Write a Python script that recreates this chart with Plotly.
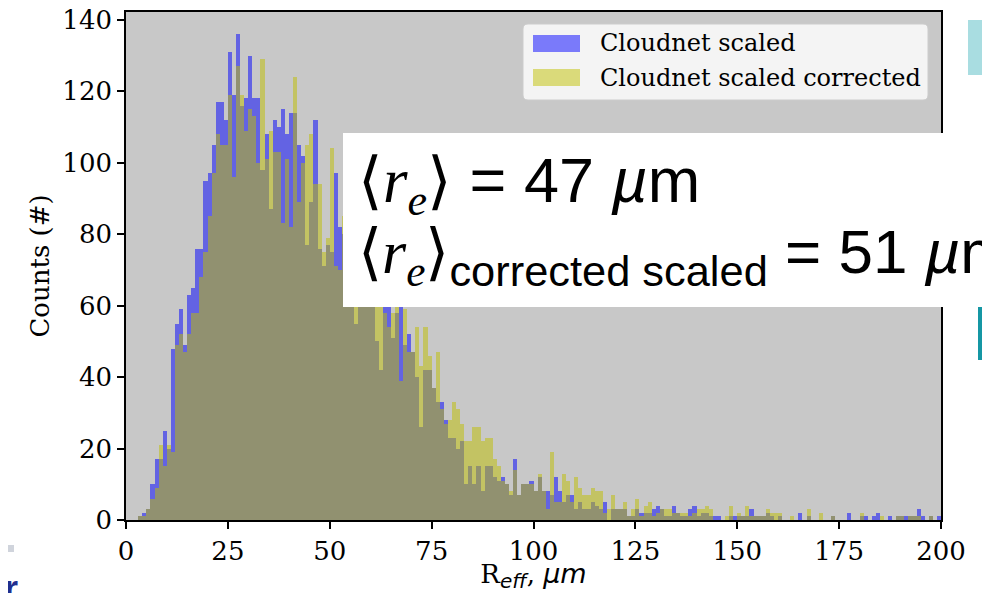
import plotly.graph_objects as go

# Histogram bins: 1 µm wide, 0..200 µm
bin_edges_start = list(range(0, 200))

blue_counts = [
    0, 0, 0, 1, 2, 3, 10, 17, 17, 25,
    20, 48, 55, 59, 49, 63, 65, 76, 76, 95,
    97, 105, 117, 117, 112, 131, 119, 136, 116, 118,
    130, 118, 118, 98, 108, 87, 112, 110, 115, 108,
    114, 114, 105, 102, 77, 89, 112, 76, 71, 77,
    75, 97, 82, 80, 78, 75, 55, 72, 74, 70,
    66, 50, 42, 62, 60, 51, 58, 62, 49, 52,
    47, 40, 26, 42, 42, 37, 33, 33, 28, 23,
    23, 20, 22, 10, 15, 10, 15, 8, 15, 15,
    12, 11, 12, 10, 7, 17, 7, 10, 10, 11,
    8, 12, 8, 8, 7, 12, 8, 5, 7, 7,
    3, 5, 3, 3, 5, 4, 3, 5, 0, 3,
    3, 3, 3, 1, 1, 3, 2, 2, 2, 3,
    4, 3, 1, 1, 4, 2, 1, 1, 3, 4,
    1, 2, 2, 1, 1, 1, 0, 0, 1, 1,
    1, 1, 1, 3, 1, 1, 1, 2, 1, 0,
    1, 0, 0, 0, 0, 2, 0, 1, 0, 0,
    0, 0, 0, 1, 0, 0, 0, 2, 0, 0,
    1, 1, 0, 1, 2, 0, 0, 1, 0, 1,
    1, 1, 1, 1, 3, 1, 0, 1, 0, 1,
]

yellow_counts = [
    0, 0, 0, 1, 1, 3, 6, 9, 21, 15,
    21, 19, 49, 52, 47, 52, 58, 58, 68, 75,
    85, 97, 108, 105, 105, 119, 96, 127, 119, 109,
    115, 113, 100, 129, 101, 109, 103, 103, 83, 101,
    82, 124, 89, 100, 105, 108, 94, 94, 75, 79,
    104, 71, 70, 85, 80, 72, 68, 80, 78, 75,
    72, 62, 62, 58, 54, 58, 60, 39, 59, 47,
    47, 54, 43, 54, 46, 37, 47, 31, 27, 28,
    33, 31, 27, 22, 22, 26, 26, 22, 23, 23,
    17, 15, 11, 10, 8, 14, 7, 10, 10, 10,
    8, 13, 8, 3, 19, 5, 5, 13, 11, 5,
    12, 9, 7, 7, 9, 8, 8, 2, 3, 7,
    3, 3, 5, 1, 3, 6, 1, 4, 5, 1,
    2, 3, 3, 3, 2, 2, 2, 2, 1, 2,
    3, 3, 4, 3, 0, 0, 0, 1, 4, 0,
    2, 1, 4, 1, 1, 1, 1, 3, 2, 2,
    2, 0, 0, 1, 0, 0, 0, 3, 0, 0,
    2, 0, 0, 1, 0, 0, 0, 0, 0, 0,
    2, 0, 0, 0, 0, 1, 0, 0, 0, 1,
    1, 0, 1, 1, 1, 0, 0, 1, 0, 0,
]

x_ticks = [0, 25, 50, 75, 100, 125, 150, 175, 200]
y_ticks = [0, 20, 40, 60, 80, 100, 120, 140]
series_names = ["Cloudnet scaled", "Cloudnet scaled corrected"]

centers = [b + 0.5 for b in bin_edges_start]

SERIF = "DejaVu Serif"
SANS = "Liberation Sans, Arial, sans-serif"

fig = go.Figure()
fig.add_trace(go.Bar(
    x=centers, y=blue_counts, width=1, name=series_names[0], showlegend=False,
    marker=dict(color="rgb(0,0,255)", line=dict(width=0)), opacity=0.5,
))
fig.add_trace(go.Bar(
    x=centers, y=yellow_counts, width=1, name=series_names[1], showlegend=False,
    marker=dict(color="rgb(191,191,0)", line=dict(width=0)), opacity=0.5,
))

axis_common = dict(
    showgrid=False, zeroline=False, showline=True, linecolor="black", linewidth=1.6,
    mirror=True, ticks="outside", ticklen=7, tickwidth=1.6, tickcolor="black",
    tickfont=dict(family=SERIF, size=26, color="black"), automargin=False,
    ticklabeloverflow="allow",
)

X_TITLE = ("R<sub><i><span style='font-family:DejaVu Sans;font-size:20px'>eff</span></i></sub>, "
           "<i><span style='font-family:DejaVu Sans;font-size:27px'>µm</span></i>")

# The page body has an 8 px offset; plot area on screen: x 126..941, y 12..520
fig.update_layout(
    width=982, height=585,
    margin=dict(l=118, r=49, t=4, b=73),
    paper_bgcolor="white", plot_bgcolor="#c8c8c8",
    barmode="overlay", bargap=0,
    xaxis=dict(range=[0, 200], tickvals=x_ticks, ticktext=[str(v) for v in x_ticks],
               title=dict(text=X_TITLE, font=dict(family=SERIF, size=26, color="black"), standoff=4),
               **axis_common),
    yaxis=dict(range=[0, 142.2], tickvals=y_ticks, ticktext=[str(v) for v in y_ticks],
               title=dict(text="Counts (#)", font=dict(family=SERIF, size=26, color="black"), standoff=5),
               **axis_common),
    showlegend=False,
)


def px_x(p):
    return (p - 126) / 815.0


def px_y(p):
    return (520 - p) / 508.0


def rounded_rect(x0, y0, x1, y1, r):
    # x/y in screen px; returns a paper-coordinate path
    rx = r / 815.0
    ry = r / 508.0
    X0, X1 = px_x(x0), px_x(x1)
    Yt, Yb = px_y(y0), px_y(y1)
    return (f"M {X0+rx},{Yt} L {X1-rx},{Yt} Q {X1},{Yt} {X1},{Yt-ry} "
            f"L {X1},{Yb+ry} Q {X1},{Yb} {X1-rx},{Yb} L {X0+rx},{Yb} "
            f"Q {X0},{Yb} {X0},{Yb+ry} L {X0},{Yt-ry} Q {X0},{Yt} {X0+rx},{Yt} Z")


shapes = [
    # legend frame
    dict(type="path", xref="paper", yref="paper", path=rounded_rect(523, 24, 928, 100, 5),
         fillcolor="rgba(255,255,255,0.8)", line=dict(color="#cccccc", width=1), layer="above"),
    # legend swatches
    dict(type="rect", xref="paper", yref="paper", x0=px_x(533), x1=px_x(580), y0=px_y(52), y1=px_y(35),
         fillcolor="rgb(0,0,255)", opacity=0.5, line=dict(width=0), layer="above"),
    dict(type="rect", xref="paper", yref="paper", x0=px_x(533), x1=px_x(580), y0=px_y(86), y1=px_y(69),
         fillcolor="rgb(191,191,0)", opacity=0.5, line=dict(width=0), layer="above"),
    # white text box overlay
    dict(type="rect", xref="paper", yref="paper", x0=px_x(343), x1=px_x(1000), y0=px_y(307), y1=px_y(133),
         fillcolor="white", line=dict(width=0), layer="above"),
    # teal slide fragments on the right
    dict(type="rect", xref="paper", yref="paper", x0=px_x(968), x1=px_x(1000), y0=px_y(75), y1=px_y(20),
         fillcolor="#a9dde1", line=dict(width=0), layer="above"),
    dict(type="rect", xref="paper", yref="paper", x0=px_x(978), x1=px_x(1000), y0=px_y(360), y1=px_y(307),
         fillcolor="#1597a4", line=dict(width=0), layer="above"),
    # bottom-left fragment
    dict(type="rect", xref="paper", yref="paper", x0=px_x(-10), x1=px_x(14), y0=px_y(552), y1=px_y(545),
         fillcolor="#d0d4dc", line=dict(width=0), layer="above"),
]
fig.update_layout(shapes=shapes)

# legend labels
fig.add_annotation(xref="paper", yref="paper", x=px_x(598), y=px_y(43), xanchor="left", yanchor="middle",
                   text=series_names[0], showarrow=False, font=dict(family=SERIF, size=24, color="black"))
fig.add_annotation(xref="paper", yref="paper", x=px_x(598), y=px_y(78), xanchor="left", yanchor="middle",
                   text=series_names[1], showarrow=False, font=dict(family=SERIF, size=24, color="black"))

# overlaid text box contents
R_E = ("<i><span style='font-family:Liberation Serif'>r</span>"
       "<sub><span style='font-family:Liberation Serif'>e</span></sub></i>")
fig.add_annotation(xref="paper", yref="paper", x=px_x(356), y=px_y(185), xanchor="left", yanchor="middle",
                   text="⟨" + R_E + "⟩ = 47 <i>µ</i>m", showarrow=False,
                   font=dict(family=SANS, size=63, color="black"))
fig.add_annotation(xref="paper", yref="paper", x=px_x(356), y=px_y(256), xanchor="left", yanchor="middle",
                   text="⟨" + R_E + "⟩<sub>corrected scaled</sub> = 51 <i>µ</i>m", showarrow=False,
                   font=dict(family=SANS, size=62, color="black"))
fig.add_annotation(xref="paper", yref="paper", x=px_x(2), y=px_y(588), xanchor="left", yanchor="middle",
                   text="<b>r</b>", showarrow=False, font=dict(family=SANS, size=36, color="#1f2f8f"))

fig.write_html("out.html")
